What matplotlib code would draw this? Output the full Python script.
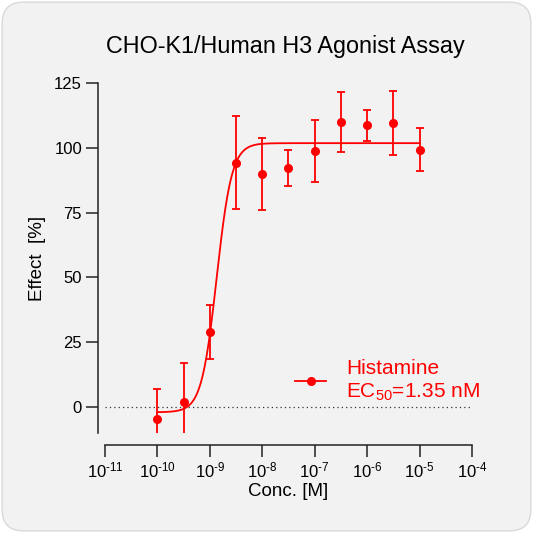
import numpy as np
import matplotlib
matplotlib.use("Agg")
import matplotlib.pyplot as plt
from matplotlib.lines import Line2D
from matplotlib.patches import FancyBboxPatch

plt.rcParams["font.family"] = ["Liberation Sans", "DejaVu Sans"]
plt.rcParams["mathtext.fontset"] = "custom"
plt.rcParams["mathtext.rm"] = "Liberation Sans"
plt.rcParams["mathtext.it"] = "Liberation Sans:italic"
plt.rcParams["mathtext.bf"] = "Liberation Sans:bold"

# measured points (Histamine)
conc = [1e-10, 3.16e-10, 1e-9, 3.16e-9, 1e-8, 3.16e-8, 1e-7, 3.16e-7, 1e-6, 3.16e-6, 1e-5]
effect = [-4.6, 1.9, 28.8, 94.2, 90.0, 92.3, 98.8, 110.0, 108.8, 109.6, 99.2]
err_hi = [6.9, 17.0, 39.2, 112.3, 103.8, 99.2, 110.8, 121.5, 114.6, 121.9, 107.7]
err_lo = [-16.0, -13.0, 18.5, 76.5, 76.2, 85.4, 86.9, 98.5, 102.7, 97.3, 91.2]

# 4PL fit parameters
fit_bottom = -2.0
fit_top = 101.8
ec50 = 1.35e-9
hill = 3.0

x_ticks = [1e-11, 1e-10, 1e-9, 1e-8, 1e-7, 1e-6, 1e-5, 1e-4]
x_labels = [r"$\mathregular{10^{\text{-}%d}}$" % p for p in range(11, 3, -1)]
y_ticks = [0, 25, 50, 75, 100, 125]

red = "#ff0000"
dark = "#222222"

fig = plt.figure(figsize=(5.33, 5.33), dpi=100)
fig.patch.set_facecolor("white")
bg = FancyBboxPatch((0.004, 0.004), 0.992, 0.992,
                    boxstyle="round,pad=0,rounding_size=0.04",
                    transform=fig.transFigure, facecolor="#f2f2f2",
                    edgecolor="#d9d9d9", linewidth=1.0, zorder=-10)
fig.patches.append(bg)

ax = fig.add_axes([105 / 533, 100 / 533, 367 / 533, 350 / 533])
ax.set_facecolor("none")
ax.set_xscale("log")
ax.set_xlim(1e-11, 1e-4)
ax.set_ylim(-10, 125)

for side in ["top", "right"]:
    ax.spines[side].set_visible(False)
ax.spines["left"].set_position(("outward", 5.4))
ax.spines["bottom"].set_position(("outward", 8.6))
for side in ["left", "bottom"]:
    ax.spines[side].set_linewidth(1.1)
    ax.spines[side].set_color(dark)

ax.set_xticks(x_ticks)
ax.set_xticklabels(x_labels)
ax.xaxis.set_minor_locator(matplotlib.ticker.LogLocator(base=10, subs=np.arange(2, 10)))
ax.xaxis.set_minor_formatter(matplotlib.ticker.NullFormatter())
ax.set_yticks(y_ticks)
ax.tick_params(axis="both", which="major", direction="out", length=8.6,
               width=1.1, color=dark, labelsize=12, labelcolor="black", pad=2.5)
ax.tick_params(axis="x", which="minor", direction="out", length=5, width=1.0, color=dark)

ax.axhline(0, color="#333333", linestyle=(0, (1, 2.5)), linewidth=0.9, zorder=1)

# fitted curve
xc = np.logspace(-10, -5, 400)
yc = fit_bottom + (fit_top - fit_bottom) / (1 + 10 ** ((np.log10(ec50) - np.log10(xc)) * hill))
ax.plot(xc, yc, color=red, linewidth=1.3, zorder=3)

effect_arr = np.array(effect)
yerr = [effect_arr - np.array(err_lo), np.array(err_hi) - effect_arr]
ax.errorbar(conc, effect, yerr=yerr, fmt="o", color=red, markersize=5.5,
            elinewidth=1.3, capsize=3, capthick=1.3, zorder=4, clip_on=True)

handle = Line2D([], [], color=red, marker="o", markersize=5.5, linewidth=1.3)
ax.legend([handle], ["Histamine\nEC$_{\\mathregular{50}}$=1.35 nM"],
          loc="center left", bbox_to_anchor=(0.518, 0.149), frameon=False,
          fontsize=15, labelcolor=red, handlelength=1.5, handletextpad=0.95,
          borderpad=0, borderaxespad=0, labelspacing=0)

ax.set_xlabel("Conc. [M]", fontsize=13.5, labelpad=2)
ax.set_ylabel("Effect  [%]", fontsize=13.5, labelpad=6)

fig.text(285 / 533, 1 - 53 / 533, "CHO-K1/Human H3 Agonist Assay",
         ha="center", va="baseline", fontsize=16.8)

fig.savefig("out.png", dpi=100, facecolor=fig.get_facecolor())
